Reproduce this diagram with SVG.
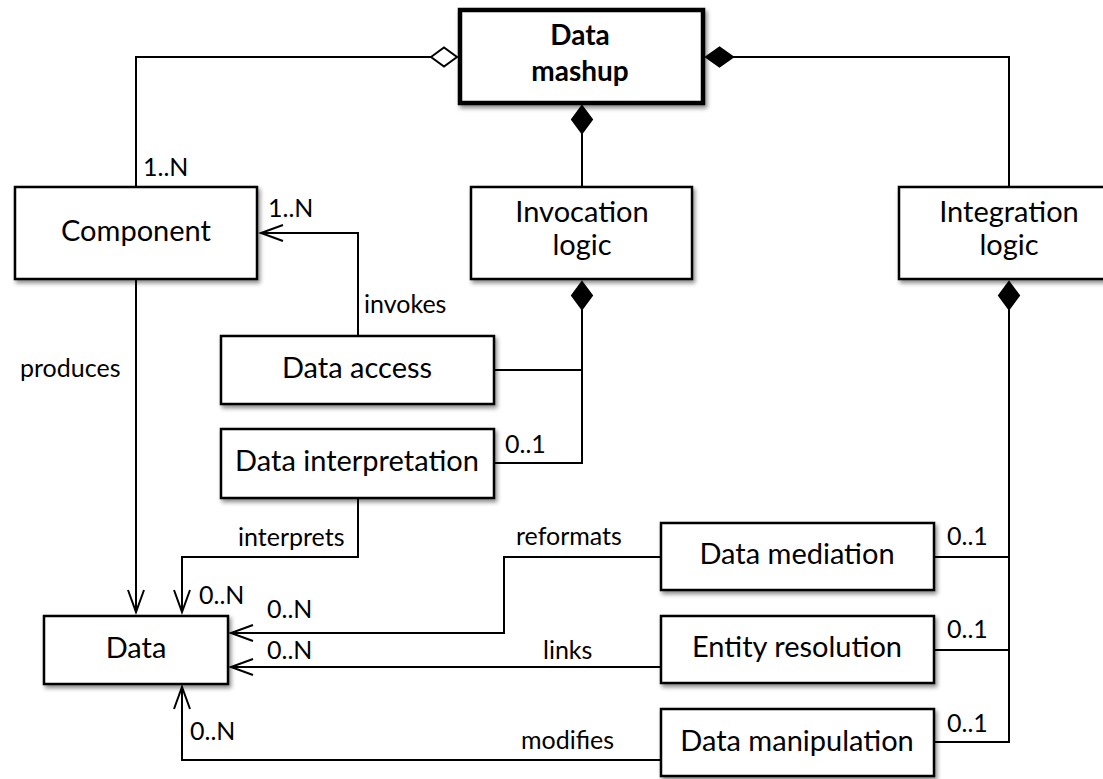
<svg xmlns="http://www.w3.org/2000/svg" width="1103" height="779" viewBox="0 0 1103 779">
  <style>
    .box { fill: #fff; stroke: #000; stroke-width: 2.5; filter: url(#shadow); }
    .main { stroke-width: 4.5; }
    .lbl { font-family: Lato, "Open Sans", "Liberation Sans", sans-serif; font-size: 29px; fill: #000; text-anchor: middle; }
    .bold { font-weight: bold; font-size: 28px; }
    .note { font-family: Lato, "Open Sans", "Liberation Sans", sans-serif; font-size: 25px; fill: #000; }
    .wire { fill: none; stroke: #000; stroke-width: 2; }
    .dia { stroke: #000; stroke-width: 2; }
  </style>
  <defs>
    <filter id="shadow" x="-10%" y="-10%" width="125%" height="135%">
      <feDropShadow dx="2" dy="3" stdDeviation="2" flood-color="#000" flood-opacity="0.45"/>
    </filter>
    <marker id="open" markerUnits="userSpaceOnUse" markerWidth="30" markerHeight="24" viewBox="-24 -12 30 24" refX="0" refY="0" orient="auto">
      <path d="M-22,-8 L0,0 L-22,8" fill="none" stroke="#000" stroke-width="2"/>
    </marker>
  </defs>

  <rect width="1103" height="779" fill="#fff"/>

  <!-- connectors -->
  <g id="connectors">
    <!-- aggregation: Component to Data mashup -->
    <path class="wire" d="M136,187 V57 H431"/>
    <path class="dia" fill="#fff" d="M431,57 L444,47.5 L457,57 L444,66.5 Z"/>
    <!-- composition: Data mashup to Integration logic -->
    <path class="wire" d="M733,57 H1009 V187"/>
    <path class="dia" fill="#000" d="M706,57 L719.5,47.5 L733,57 L719.5,66.5 Z"/>
    <!-- composition: Data mashup to Invocation logic -->
    <path class="wire" d="M582,133 V187"/>
    <path class="dia" fill="#000" d="M582,106 L592,119.5 L582,133 L572,119.5 Z"/>
    <!-- Invocation logic parts -->
    <path class="wire" d="M582,309 V463 H494 M494,370 H582"/>
    <path class="dia" fill="#000" d="M582,282 L592,295.5 L582,309 L572,295.5 Z"/>
    <!-- Integration logic parts -->
    <path class="wire" d="M1009,309 V742 H934 M934,557 H1009 M934,650 H1009"/>
    <path class="dia" fill="#000" d="M1009,282 L1019,295.5 L1009,309 L999,295.5 Z"/>
    <!-- invokes -->
    <path class="wire" d="M358,336 V233 H261" marker-end="url(#open)"/>
    <!-- produces -->
    <path class="wire" d="M136,279 V612" marker-end="url(#open)"/>
    <!-- interprets -->
    <path class="wire" d="M358,498 V557 H182 V612" marker-end="url(#open)"/>
    <!-- reformats -->
    <path class="wire" d="M661,557 H504 V633 H231" marker-end="url(#open)"/>
    <!-- links -->
    <path class="wire" d="M661,667 H231" marker-end="url(#open)"/>
    <!-- modifies -->
    <path class="wire" d="M661,760 H182 V687" marker-end="url(#open)"/>

    <text class="note" x="143" y="176">1..N</text>
    <text class="note" x="268" y="217">1..N</text>
    <text class="note" x="364" y="313">invokes</text>
    <text class="note" x="20" y="377">produces</text>
    <text class="note" x="505" y="453">0..1</text>
    <text class="note" x="238" y="546">interprets</text>
    <text class="note" x="199" y="604">0..N</text>
    <text class="note" x="267" y="618">0..N</text>
    <text class="note" x="267" y="659">0..N</text>
    <text class="note" x="516" y="545">reformats</text>
    <text class="note" x="543" y="659">links</text>
    <text class="note" x="190" y="740">0..N</text>
    <text class="note" x="521" y="749">modifies</text>
    <text class="note" x="947" y="545">0..1</text>
    <text class="note" x="947" y="638">0..1</text>
    <text class="note" x="947" y="732">0..1</text>
  </g>

  <!-- nodes -->
  <g id="data-mashup">
    <rect class="box main" x="460" y="10" width="243" height="93"/>
    <text class="lbl bold" x="580" y="45">Data</text>
    <text class="lbl bold" x="580" y="81">mashup</text>
  </g>
  <g id="component">
    <rect class="box" x="15" y="187" width="242" height="92"/>
    <text class="lbl" x="136" y="241">Component</text>
  </g>
  <g id="invocation-logic">
    <rect class="box" x="471" y="187" width="221" height="92"/>
    <text class="lbl" x="582" y="222">Invocation</text>
    <text class="lbl" x="582" y="255">logic</text>
  </g>
  <g id="integration-logic">
    <rect class="box" x="899" y="187" width="221" height="92"/>
    <text class="lbl" x="1009" y="222">Integration</text>
    <text class="lbl" x="1009" y="255">logic</text>
  </g>
  <g id="data-access">
    <rect class="box" x="221" y="336" width="273" height="68"/>
    <text class="lbl" x="357" y="378">Data access</text>
  </g>
  <g id="data-interpretation">
    <rect class="box" x="221" y="429" width="273" height="69"/>
    <text class="lbl" x="357" y="471">Data interpretation</text>
  </g>
  <g id="data">
    <rect class="box" x="44" y="616" width="184" height="68"/>
    <text class="lbl" x="136" y="658">Data</text>
  </g>
  <g id="data-mediation">
    <rect class="box" x="661" y="523" width="273" height="67"/>
    <text class="lbl" x="797" y="564">Data mediation</text>
  </g>
  <g id="entity-resolution">
    <rect class="box" x="661" y="616" width="273" height="67"/>
    <text class="lbl" x="797" y="657">Entity resolution</text>
  </g>
  <g id="data-manipulation">
    <rect class="box" x="661" y="709" width="273" height="67"/>
    <text class="lbl" x="797" y="751">Data manipulation</text>
  </g>
</svg>
